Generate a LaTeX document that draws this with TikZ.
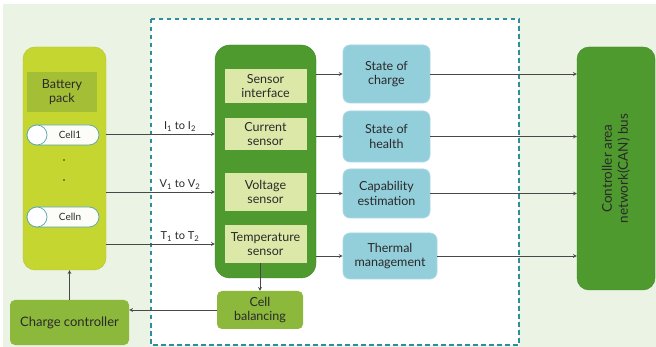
\documentclass[tikz,border=0pt]{standalone}
\usepackage{fontspec}
\setmainfont{Lato}
\usetikzlibrary{positioning}

\definecolor{bgfill}{HTML}{EAF3E4}
\definecolor{dashcol}{HTML}{2E8E9C}
\definecolor{packfill}{HTML}{C6D630}
\definecolor{packedge}{HTML}{B2C22C}
\definecolor{packlbl}{HTML}{A4BE36}
\definecolor{bmsfill}{HTML}{4F9A2E}
\definecolor{bmsedge}{HTML}{3F8726}
\definecolor{sensfill}{HTML}{DCE8A8}
\definecolor{estfill}{HTML}{93CEDB}
\definecolor{estedge}{HTML}{A9D9E4}
\definecolor{ctrlfill}{HTML}{8CB83C}
\definecolor{txt}{HTML}{2A2A2A}
\definecolor{wire}{HTML}{484848}

\tikzset{
  box/.style={align=center, text=txt, inner sep=2pt, font=\fontsize{12.5}{14.5}\selectfont},
  sensorbox/.style={box, fill=sensfill, minimum width=82pt},
  estbox/.style={box, rounded corners=7pt, fill=estfill, draw=estedge, line width=0.8pt, minimum width=87pt},
  ctrlbox/.style={box, rounded corners=5pt, fill=ctrlfill},
  cellpill/.style={box, font=\fontsize{10}{12}\selectfont, rounded corners=10pt, fill=white!92!sensfill,
    draw=dashcol!80, line width=0.7pt, minimum width=72pt, minimum height=20pt},
  cellcap/.style={circle, fill=white, draw=dashcol!80, line width=0.7pt, minimum size=20pt, inner sep=0pt},
  celldot/.style={circle, fill=txt, inner sep=0pt, minimum size=1.8pt},
  arr/.style={-stealth, draw=wire, line width=0.7pt},
  sig/.style={above, text=txt, font=\fontsize{11}{13}\selectfont, inner sep=2pt}
}

\begin{document}
\begin{tikzpicture}[x=1pt, y=-1pt]
\useasboundingbox (0,0) rectangle (656,347);
\fill[bgfill] (3,4) rectangle (656,347);
\fill[white] (151,19) rectangle (519,345);
\draw[draw=dashcol, line width=1.3pt, dash pattern=on 4.5pt off 3.5pt] (151,19) rectangle (519,345);

% battery side
\node[box, rounded corners=12pt, fill=packfill, draw=packedge, minimum width=83pt, minimum height=223pt] (pack) at (64.5,158.5) {};
\node[box, fill=packlbl, minimum width=70pt, minimum height=40pt] (packlbl) at (62,92) {Battery\\pack};
\node[cellpill] (cell1) at (63,135) {\hspace*{14pt}Cell1};
\node[cellcap, anchor=west] (cap1) at (cell1.west) {};
\node[celldot] (dot1) at (64,160) {};
\node[celldot] (dot2) at (64,180) {};
\node[cellpill] (celln) at (63,217) {\hspace*{14pt}Celln};
\node[cellcap, anchor=west] (capn) at (celln.west) {};

% BMS block
\node[box, rounded corners=15pt, fill=bmsfill, draw=bmsedge, minimum width=101pt, minimum height=233pt] (bms) at (265.5,161.5) {};
\node[sensorbox, minimum height=34pt] (iface) at (265.5,86) {Sensor\\interface};
\node[sensorbox, minimum height=32pt] (cur) at (265.5,134) {Current\\sensor};
\node[sensorbox, minimum height=38pt] (volt) at (265.5,192) {Voltage\\sensor};
\node[sensorbox, minimum height=38pt] (temp) at (265.5,244) {Temperature\\sensor};

% estimation blocks
\node[estbox, minimum height=58pt] (soc) at (386.5,74) {State of\\charge};
\node[estbox, minimum height=51pt] (soh) at (386.5,136.5) {State of\\health};
\node[estbox, minimum height=49pt] (cap) at (386.5,193.5) {Capability\\estimation};
\node[estbox, minimum width=94pt, minimum height=46pt] (therm) at (390,256) {Thermal\\management};

% CAN bus
\node[box, rounded corners=12pt, fill=bmsfill, draw=bmsedge, minimum width=78pt, minimum height=243pt] (can) at (616,168.5) {};
\node[box, rotate=90, font=\fontsize{13.5}{16}\selectfont] (canlbl) at (can.center) {Controller area\\network(CAN) bus};

% controllers
\node[ctrlbox, minimum width=86pt, minimum height=38pt] (bal) at (260,310) {Cell\\balancing};
\node[ctrlbox, minimum width=119pt, minimum height=45pt, font=\fontsize{13}{15}\selectfont] (chg) at (69.5,322.5) {Charge controller};

%pack>bms
\draw[arr] (pack.east |- cur) -- node[sig, pos=0.68] {I\textsubscript{1} to I\textsubscript{2}} (bms.west |- cur);
\draw[arr] (pack.east |- volt) -- node[sig, pos=0.68] {V\textsubscript{1} to V\textsubscript{2}} (bms.west |- volt);
\draw[arr] (pack.east |- temp) -- node[sig, pos=0.68] {T\textsubscript{1} to T\textsubscript{2}} (bms.west |- temp);

%bms>estimation
\draw[arr] (bms.east |- soc) -- (soc.west);
\draw[arr] (bms.east |- soh) -- (soh.west);
\draw[arr] (bms.east |- cap) -- (cap.west);
\draw[arr] (bms.east |- therm) -- (therm.west);

%estimation>can
\draw[arr] (soc.east) -- (can.west |- soc);
\draw[arr] (soh.east) -- (can.west |- soh);
\draw[arr] (cap.east) -- (can.west |- cap);
\draw[arr] (therm.east) -- (can.west |- therm);

%balancing loop
\draw[arr] (temp.south -| bal) -- (bal.north);
\draw[arr] (bal.west) -- (chg.east |- bal);
\draw[arr] (chg.north) -- (pack.south -| chg);
\end{tikzpicture}
\end{document}
